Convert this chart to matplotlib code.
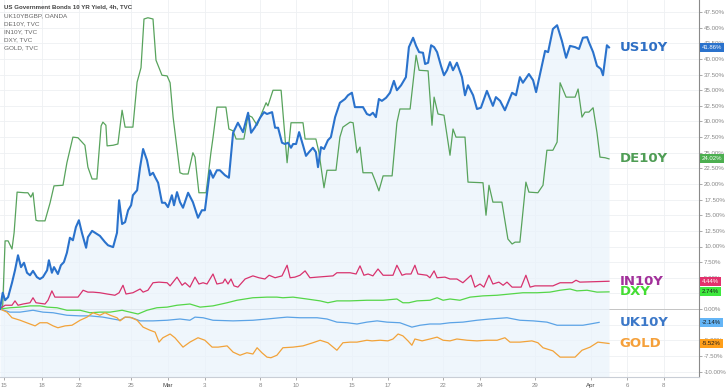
import numpy as np
import matplotlib
matplotlib.use('Agg')
import matplotlib.pyplot as plt

# x = 4h bar index from the start of the window, value = % change
us10y = [(0, 0), (0.9, 2.6), (1.7, 1.4), (2.7, 1.9), (4, 4.2), (5, 6.2), (6, 8.6), (7, 6.7), (8, 7.4), (9, 5.8),
         (10, 5.4), (11, 6.1), (12.3, 5.1), (13.3, 4.8), (14.3, 5.1), (15.7, 6.2), (16.3, 7.8), (17.3, 5.8), (18, 6.7), (19.3, 5.6),
         (20.3, 7.0), (21.3, 7.5), (22.3, 9.0), (23.3, 11.4), (24.3, 11.0), (25.3, 13.1), (26.3, 14.2), (27.3, 12.2), (28.7, 9.8), (29.3, 11.5),
         (30.7, 12.5), (31.7, 12.2), (33.3, 11.7), (35, 10.7), (36, 10.2), (37.7, 9.9), (39, 12.2), (39.7, 17.4), (40.7, 13.6), (41.7, 13.9),
         (42.7, 15.8), (43.7, 16.6), (44.3, 18.2), (45.7, 19.0), (46.7, 22.7), (47.7, 25.6), (49, 23.8), (50, 21.4), (51, 21.8), (51.7, 21.1),
         (52.7, 20.2), (54, 17.0), (55, 17.0), (56, 16.3), (57.3, 18.2), (58, 16.6), (59, 18.7), (60, 17.1), (61, 16.2), (62.7, 18.6),
         (64.3, 17.1), (66, 14.6), (67.3, 15.8), (68.3, 15.8), (70, 22.2), (71, 21.0), (72.3, 22.2), (73.3, 22.2), (75, 21.4), (76.3, 21.0),
         (77.7, 28.2), (79.3, 29.8), (81, 28.3), (82.7, 31.4), (83.7, 28.2), (85, 29.1), (86.7, 30.6), (88, 31.5), (89, 31.2), (90.7, 31.5),
         (91.7, 29.0), (92.7, 29.0), (94, 26.6), (95, 26.4), (96, 26.6), (97, 25.8), (97.7, 26.4), (98.7, 26.4), (99.7, 28.3), (101, 26.2),
         (102, 24.5), (103, 25.1), (104.3, 25.8), (105.3, 25.1), (106, 22.7), (107, 25.9), (108, 25.6), (109.3, 27.0), (110.3, 27.5), (111.7, 30.7),
         (113.3, 33.0), (115, 33.6), (116, 34.2), (117.3, 34.6), (118.3, 32.3), (120, 32.3), (121, 32.3), (122.3, 31.2), (123.3, 31.0), (124.3, 31.4),
         (125.3, 30.7), (126.3, 33.6), (127.3, 33.3), (128.7, 33.8), (130, 34.6), (131.3, 36.5), (132.3, 35.0), (133.7, 35.8), (135.3, 37.1), (136.3, 41.9),
         (137.7, 43.4), (138.7, 42.1), (139.7, 41.1), (141, 41.0), (141.7, 39.2), (142.7, 39.4), (143.7, 42.2), (144.7, 41.9), (145.7, 41.1), (147, 38.9),
         (148, 37.4), (149, 38.2), (150, 39.5), (151, 38.2), (152.3, 39.4), (154, 37.1), (155, 34.2), (156, 35.8), (157.7, 34.2), (159, 32.0),
         (160.3, 32.2), (162.3, 34.9), (164.3, 32.5), (165.3, 33.9), (166.7, 33.3), (168.3, 31.8), (170.7, 34.6), (172, 34.2), (173.3, 37.1), (174.3, 36.2),
         (176.3, 37.6), (177.7, 36.6), (178.7, 34.7), (180.3, 38.2), (181.7, 41.3), (182.7, 41.1), (184.3, 44.8), (185.7, 45.4), (187.3, 42.9), (188.7, 40.2),
         (190, 42.1), (191.7, 41.9), (193, 41.6), (194.3, 43.4), (195.7, 43.5), (196.3, 42.7), (197.7, 41.1), (199, 38.9), (200.3, 38.4), (201, 37.4),
         (202.3, 42.2), (203, 41.86)]

de10y = [(0, 0), (0.9, 0.5), (1.7, 10.9), (2.7, 10.9), (4, 9.6), (4.7, 12.2), (5.7, 18.7), (8.3, 18.6), (9.3, 18.6), (10.3, 17.9),
         (11, 18.6), (12, 14.2), (12.7, 14.1), (15, 14.1), (16.7, 17.0), (18, 19.7), (21, 19.8), (22.3, 23.4), (24.3, 27.5), (26, 27.4),
         (28.3, 26.2), (29.3, 22.7), (30.7, 20.8), (32.3, 20.8), (33.7, 29.3), (34.3, 29.9), (35.3, 29.4), (35.7, 26.1), (37.7, 26.2), (39.3, 26.4),
         (40.7, 31.8), (41.7, 29.1), (44.3, 29.1), (45.7, 36.3), (47, 38.6), (48, 46.4), (49.3, 46.6), (51, 46.4), (52, 39.8), (54, 37.4),
         (55.7, 37.3), (56.7, 36.2), (57.7, 30.7), (60, 21.8), (61, 21.6), (62.7, 21.6), (64.3, 25.0), (65, 24.3), (66.3, 18.6), (68.7, 18.6),
         (70.3, 25.0), (71, 27.4), (72.3, 32.3), (75.3, 32.3), (76.3, 28.8), (77.7, 28.5), (78.7, 27.2), (81.3, 27.2), (82.7, 31.0), (84, 30.7),
         (85.7, 29.4), (87.3, 31.4), (88.7, 33.0), (89.3, 32.5), (91, 35.0), (93.7, 35.0), (94.7, 29.1), (95.7, 23.4), (97, 29.8), (101, 29.8),
         (101.7, 27.2), (105.3, 27.2), (106.3, 25.1), (108, 19.4), (109, 22.2), (112, 22.2), (113.3, 27.5), (114.3, 29.1), (116.7, 29.9), (117.7, 29.8),
         (119, 25.0), (120, 25.9), (121, 21.8), (124, 21.8), (125, 20.6), (126.3, 18.9), (127.7, 21.3), (130.7, 21.3), (132.3, 29.8), (133.3, 32.0),
         (136.7, 32.0), (138.7, 40.6), (139.7, 38.2), (142.7, 38.1), (144, 29.4), (144.7, 33.9), (146, 31.2), (148, 31.0), (150, 24.6), (151, 28.8),
         (152, 27.5), (155, 27.5), (156, 20.3), (161, 20.2), (162, 15.0), (163, 19.8), (164.3, 17.1), (167.3, 17.1), (168.3, 14.2), (169.3, 11.2),
         (170.7, 10.4), (171.7, 10.7), (173.3, 10.7), (175.3, 20.3), (176.3, 18.7), (179.3, 18.6), (181, 19.8), (182.3, 25.4), (184.3, 25.4), (185.7, 26.7),
         (186.7, 36.2), (188.7, 33.9), (191.7, 33.9), (192.7, 35.2), (194, 30.7), (195, 31.5), (196.3, 31.5), (197.7, 32.2), (199, 28.2), (200, 24.3),
         (201.7, 24.2), (203, 24.02)]

in10y = [(0, 0), (1.7, 0.6), (4, 0.6), (5, 1.3), (6, 0.6), (7.7, 0.8), (10, 1.0), (11, 1.8), (12, 1.0), (15, 0.8),
         (16, 1.4), (17.3, 2.9), (18.3, 1.9), (26, 1.9), (27.7, 3.0), (29.3, 2.7), (31, 2.7), (33.3, 2.6), (35.7, 2.4), (38.3, 2.2),
         (39.7, 2.6), (41, 3.8), (42, 2.4), (44.3, 2.6), (46.7, 3.2), (47.7, 2.7), (49.3, 3.0), (51, 4.2), (53, 4.3), (55.7, 4.2),
         (56.7, 3.7), (59, 5.1), (60.7, 3.8), (61.7, 4.2), (63.3, 3.5), (65, 5.1), (66.3, 4.0), (67.7, 4.2), (69, 4.0), (71, 5.6),
         (72.3, 4.0), (74.3, 4.2), (75, 4.8), (76, 4.0), (77, 4.8), (78, 3.7), (79.3, 3.5), (81.7, 4.8), (84.3, 5.3), (86.3, 5.0),
         (88.3, 4.8), (89.7, 5.4), (91.7, 5.0), (94, 5.3), (95.7, 7.0), (96.7, 5.0), (98.3, 5.1), (100, 5.4), (101.7, 6.1), (103.3, 5.0),
         (105.7, 5.1), (111, 5.3), (112.3, 5.8), (116.7, 5.8), (118.7, 5.6), (120, 6.9), (121.3, 5.4), (122.7, 5.6), (124.3, 5.3), (126, 6.4),
         (127.7, 5.4), (131, 5.4), (132.3, 7.0), (134, 5.4), (135.3, 5.6), (137, 5.6), (138.3, 7.0), (139.3, 5.6), (142.3, 5.4), (143.3, 5.0),
         (144.7, 6.1), (145.7, 5.0), (148.3, 5.1), (150, 4.8), (152.3, 4.8), (154.3, 4.2), (157, 5.4), (158.3, 3.5), (160, 4.0), (161.3, 3.5),
         (163, 5.4), (164.3, 4.0), (166.3, 4.3), (167.7, 3.8), (169, 4.3), (170.7, 3.5), (173.7, 3.5), (175.3, 5.4), (176.7, 3.5), (178.3, 3.7),
         (184.3, 3.7), (186.7, 4.2), (190.7, 4.2), (192, 4.6), (193.3, 4.3), (203, 4.44)]

dxy = [(0, 0), (3.3, 0.2), (6.7, 0.3), (10, 0.5), (13.3, 0.5), (15.7, 0.3), (19, 0.2), (22.3, -0.2), (26.7, -0.2), (30, -0.6),
       (33.3, -0.5), (36.7, -0.5), (40.7, -0.2), (43.3, -0.5), (46, -0.8), (49, -0.2), (52.3, 0.2), (55.7, 0.3), (59, 0.6), (63.3, 0.8),
       (66.7, 0.3), (71, 0.5), (75.7, 1.0), (79, 1.4), (84.3, 1.8), (89, 1.9), (92.3, 1.9), (94.3, 1.8), (97.7, 1.9), (102.3, 1.6),
       (106.7, 1.3), (109.3, 1.0), (112.3, 1.3), (116.7, 1.3), (122.3, 1.4), (127.7, 1.4), (132.3, 1.6), (134.3, 1.0), (136.3, 1.0), (139, 1.3),
       (143.3, 1.4), (145.7, 1.8), (147.7, 1.4), (150, 1.6), (153.3, 1.4), (156.7, 1.9), (161, 2.1), (165.7, 2.2), (170, 2.4), (174.3, 2.6),
       (179, 2.6), (183.3, 2.7), (186.7, 3.0), (190, 3.2), (192.3, 2.9), (195.7, 3.0), (199, 2.7), (203, 2.74)]

uk10y = [(0, 0), (3.3, -0.5), (6.7, -0.5), (11, -0.2), (14.3, -0.5), (17.7, -0.6), (22.3, -1.0), (26.7, -1.1), (30, -1.1), (34.3, -1.3),
         (37.7, -1.6), (40, -1.8), (41.7, -1.3), (44, -1.4), (46.7, -1.9), (51, -1.9), (55.7, -1.8), (60, -1.6), (63.3, -1.8), (65, -1.3),
         (67.7, -1.4), (71, -1.8), (77.7, -1.9), (84.3, -1.8), (89, -1.6), (93.3, -1.4), (95.7, -1.3), (100, -1.4), (105.7, -1.4), (109, -1.6),
         (112.3, -2.1), (115.7, -2.2), (119, -2.4), (122.3, -2.1), (125.7, -1.9), (129, -2.1), (133.3, -2.2), (137.3, -2.9), (140, -2.6), (143.3, -2.4),
         (146.7, -2.4), (150, -2.2), (154.3, -2.1), (159, -1.8), (163.3, -1.6), (169, -1.4), (173.3, -1.8), (177.7, -1.9), (182.3, -2.1), (185.7, -2.6),
         (189, -2.6), (192.3, -2.6), (194.3, -2.6), (196.7, -2.4), (199.7, -2.14)]

gold = [(0, 0), (2.3, -0.5), (4, -1.4), (6.7, -1.8), (10, -2.4), (11.7, -2.7), (13.3, -2.2), (15.7, -2.2), (17.7, -2.7), (19.3, -3.0),
        (21.7, -2.7), (24, -2.6), (26.7, -1.8), (29, -1.3), (31, -0.6), (33.3, -1.0), (35, -0.6), (36.7, -1.0), (39, -1.4), (40, -1.9),
        (41.7, -1.3), (43.3, -1.3), (45.7, -1.8), (47.7, -2.9), (50, -3.4), (51.7, -3.7), (53, -5.3), (54.3, -4.6), (56.7, -4.0), (58.3, -4.6),
        (61, -6.1), (63.3, -5.3), (66, -4.6), (68.3, -5.0), (70.7, -6.1), (72.7, -6.1), (75.7, -5.9), (77.7, -6.9), (80, -7.4), (82.3, -7.0),
        (84.3, -7.2), (85.7, -6.2), (87.3, -7.0), (89, -7.7), (90.3, -7.8), (92.3, -7.4), (94.3, -6.2), (97.7, -6.1), (101, -5.9), (104.3, -5.4),
        (106.7, -5.0), (109.3, -5.4), (112.3, -6.6), (114.3, -5.4), (116.7, -5.3), (119, -5.3), (122.3, -5.0), (124, -5.1), (126.7, -5.0), (129.3, -5.1),
        (131, -4.8), (132.7, -4.0), (134.3, -4.3), (136, -5.1), (137.3, -5.8), (138.3, -4.8), (140.7, -5.1), (143.3, -4.8), (145.7, -4.5), (147.7, -5.0),
        (150, -5.1), (152.3, -4.8), (155.7, -5.0), (159, -5.1), (162.3, -5.0), (165.7, -5.0), (168.3, -4.6), (170, -5.3), (173.3, -5.3), (177.3, -5.1),
        (179.3, -5.4), (181, -6.2), (184.3, -6.7), (186.7, -7.7), (190, -7.7), (191.7, -7.7), (194, -6.6), (196.7, -6.1), (199.3, -5.3), (201, -5.4),
        (203, -5.52)]

tick_pos = [1.3, 14, 26.3, 43.7, 56, 68.3, 86.7, 98.7, 117.3, 129.3, 147.7, 160, 178.3, 197, 209, 221.3]
tick_labels = ['15', '18', '22', '25', 'Mar', '3', '8', '10', '15', '17', '22', '24', '29', 'Apr', '6', '8']

legend_lines = ['UK10YBGBP, OANDA', 'DE10Y, TVC', 'IN10Y, TVC', 'DXY, TVC', 'GOLD, TVC']
title = 'US Government Bonds 10 YR Yield, 4h, TVC'

# name, data, line colour, line width, label colour, box colour, box text colour
series = [
    ('DE10Y', de10y, '#58a35c', 0.9, '#4f9d55', '#4caf50', 'white'),
    ('IN10Y', in10y, '#d8336e', 0.9, '#a2309a', '#e2316c', 'white'),
    ('DXY', dxy, '#55d648', 0.9, '#44dd33', '#3ee83e', '#1a1a1a'),
    ('UK10Y', uk10y, '#5ba3e6', 0.9, '#3c78c8', '#64b5f6', '#1a1a1a'),
    ('GOLD', gold, '#f2a33a', 0.9, '#f5a03a', '#ff9f1a', '#1a1a1a'),
    ('US10Y', us10y, '#2a72cc', 1.5, '#2e6fc4', '#2a72cc', 'white'),
]

y_lo, y_hi = -10.88, 49.44
small_font = 'Liberation Sans'

fig = plt.figure(figsize=(7.28, 3.91), dpi=100)
ax = fig.add_axes([0, 14 / 391, 699 / 728, 377 / 391])
ax.set_xlim(0, 233)
ax.set_ylim(y_lo, y_hi)

yt = np.arange(-10, 47.6, 2.5)
ax.set_yticks(yt)
ax.set_yticklabels(['%.2f%%' % v for v in yt], family=small_font)
ax.yaxis.tick_right()
ax.set_xticks(tick_pos)
ax.set_xticklabels(tick_labels, family=small_font)
ax.tick_params(axis='y', labelsize=4.4, colors='#888', length=2.5, width=0.5, pad=1.2)
ax.tick_params(axis='x', labelsize=4.4, colors='#888', length=2.5, width=0.5, pad=1.8)
for lab in ax.get_xticklabels():
    if lab.get_text() in ('Mar', 'Apr'):
        lab.set_color('#444')

for s in ('left', 'top'):
    ax.spines[s].set_visible(False)
ax.spines['right'].set_color('#8a8a8a')
ax.spines['right'].set_linewidth(0.8)
ax.spines['bottom'].set_color('#c9ced6')
ax.spines['bottom'].set_linewidth(0.8)

ax.grid(True, color='#eef0f3', linewidth=0.6)
ax.set_axisbelow(True)
ax.axhline(0, color='#c4c4c4', linewidth=0.7, zorder=1)

ux, uy = zip(*us10y)
ax.fill_between(ux, uy, y_lo, color='#eaf3fc', alpha=0.75, linewidth=0, zorder=1)

for name, data, color, lw, lab_color, box_color, box_text in series:
    xs, ys = zip(*data)
    ax.plot(xs, ys, color=color, linewidth=lw, zorder=3)
    last = ys[-1]
    ax.text(206.5, last, name, color=lab_color, fontsize=9.5, fontweight='bold',
            va='center', ha='left', zorder=4)
    ax.text(1.004, last, '%.2f%%' % last, transform=ax.get_yaxis_transform(),
            fontsize=4.3, family=small_font, color=box_text, va='center', ha='left',
            zorder=6, clip_on=False,
            bbox=dict(boxstyle='square,pad=0.35', fc=box_color, ec='none'))

fig.text(4 / 728, 1 - 7 / 391, title, fontsize=4.4, fontweight='bold', family=small_font,
         color='#444', va='center')
for i, line in enumerate(legend_lines):
    fig.text(4 / 728, 1 - (15.5 + 8 * i) / 391, line, fontsize=4.6, family=small_font,
             color='#666', va='center')

fig.savefig('out.png', dpi=100)
